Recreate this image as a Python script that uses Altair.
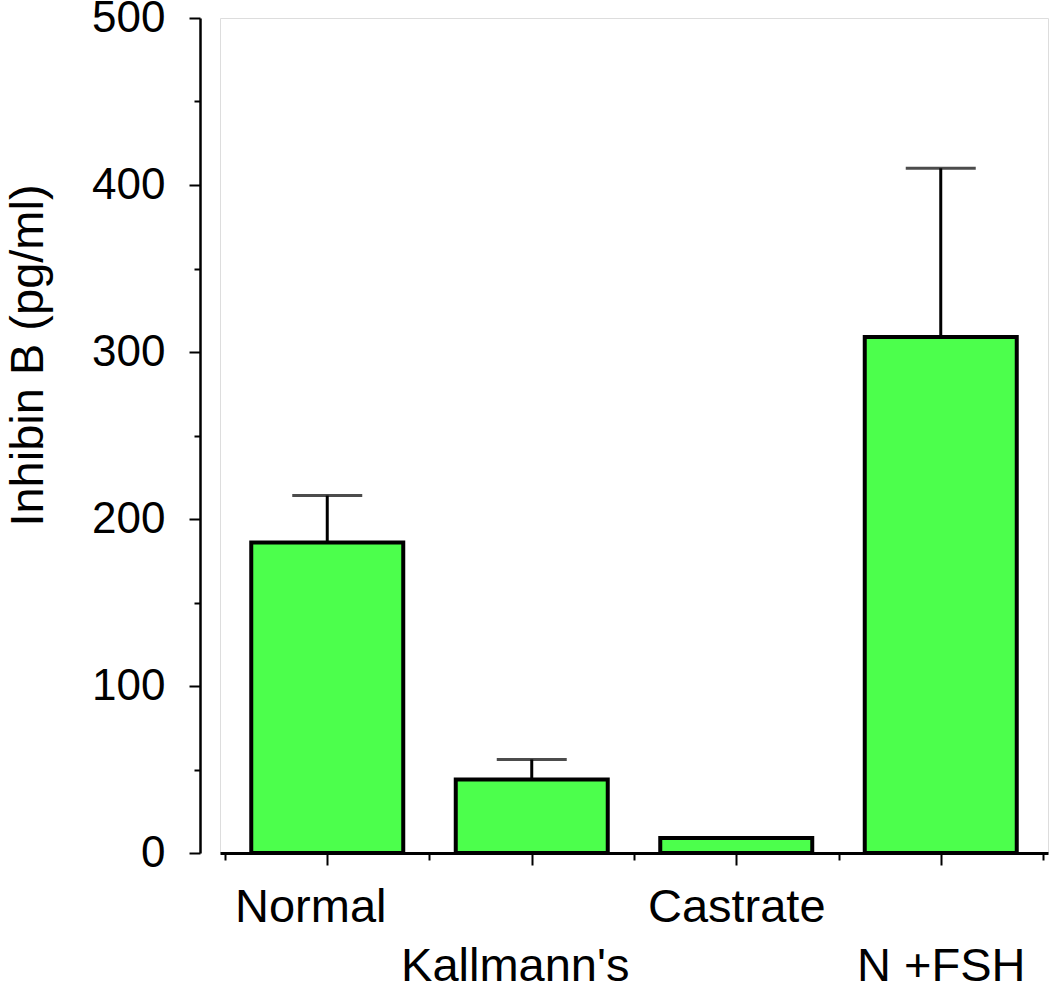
import json
import altair as alt
import pandas as pd

groups = ["Normal", "Kallmann's", "Castrate", "N +FSH"]
means = [186, 44, 9, 309]
errors = [28, 12, 0, 101]

df = pd.DataFrame({
    "idx": list(range(len(groups))),
    "group": groups,
    "mean": means,
    "top": [m + e for m, e in zip(means, errors)],
})

names_js = json.dumps(groups)
x_label_expr = (
    f"datum.value % 1 != 0 ? '' : (datum.value % 2 == 1 ? ['', {names_js}[datum.value]] : {names_js}[datum.value])"
)

x_enc = alt.X(
    "idx:Q",
    scale=alt.Scale(domain=[-0.5, 3.5], nice=False, zero=False),
    axis=alt.Axis(
        title=None,
        values=[-0.5, 0, 0.5, 1, 1.5, 2, 2.5, 3, 3.5],
        labelExpr=x_label_expr,
        labelOverlap=False,
        labelFlush=False,
        labelLimit=0,
        labelFont="Liberation Sans",
        labelFontSize=47,
        labelColor="black",
        labelBaseline="top",
        labelLineHeight=59,
        labelPadding=19,
        labelOffset=alt.condition("datum.value < 1.75", alt.value(-17), alt.value(0)),
        tickSize=alt.condition("datum.value % 1 == 0", alt.value(12), alt.value(7)),
        tickColor="black",
        tickWidth=2,
        domainColor="black",
        domainWidth=3,
        grid=False,
    ),
)

y_scale = alt.Scale(domain=[0, 500], nice=False)
y_axis = alt.Axis(
    title="Inhibin B (pg/ml)",
    titleFont="Liberation Sans",
    titleFontSize=47,
    titleFontWeight="normal",
    titleColor="black",
    titleX=-158,
    titleY=337,
    titleAlign="center",
    titleBaseline="alphabetic",
    values=list(range(0, 501, 50)),
    labelExpr="datum.value % 100 == 0 ? datum.label : ''",
    labelOverlap=False,
    labelFlush=False,
    labelLimit=0,
    labelFont="Liberation Sans",
    labelFontSize=44,
    labelColor="black",
    labelPadding=24,
    tickSize=alt.condition("datum.value % 100 == 0", alt.value(11), alt.value(6)),
    tickColor="black",
    tickWidth=2,
    domainColor="black",
    domainWidth=2.5,
    offset=20,
    grid=False,
)

base = alt.Chart(df)

rule = base.mark_rule(color="black", strokeWidth=3).encode(
    x=x_enc,
    y=alt.Y("mean:Q", scale=y_scale, axis=y_axis),
    y2="top:Q",
)

cap = base.transform_filter("datum.top > datum.mean").mark_tick(
    orient="horizontal", color="black", thickness=3, size=70
).encode(
    x=x_enc,
    y=alt.Y("top:Q", scale=y_scale, axis=y_axis),
)

bars = base.mark_bar(
    size=152, color="#4CFF4C", stroke="black", strokeWidth=4
).encode(
    x=x_enc,
    y=alt.Y("mean:Q", scale=y_scale, axis=y_axis),
)

chart = alt.layer(rule, cap, bars).properties(
    width=828,
    height=835,
    autosize=alt.AutoSizeParams(type="none"),
    padding={"left": 220, "top": 18, "right": 2, "bottom": 135},
).configure_view(stroke=None).configure(background="white")

chart.save("out.html", embed_options={"renderer": "svg", "actions": False})
